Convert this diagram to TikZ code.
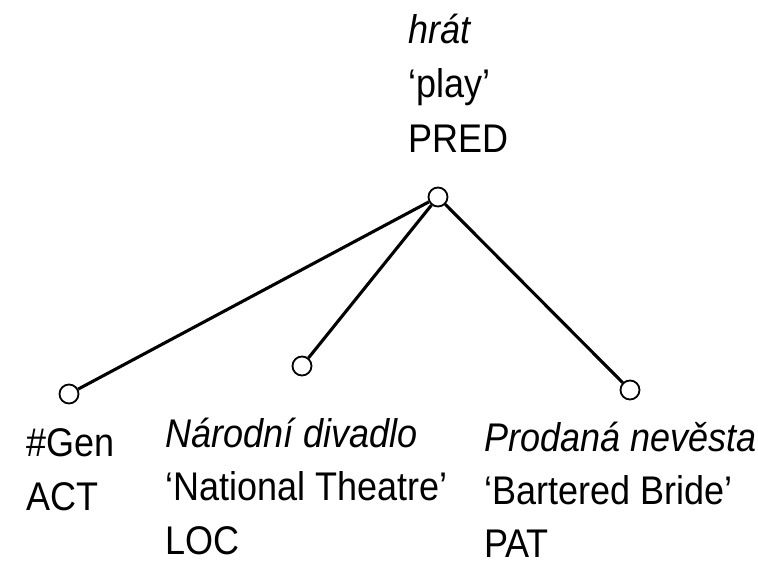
\documentclass[tikz,border=0pt]{standalone}
\usepackage{fontspec}
\setmainfont[FakeStretch=0.9]{Liberation Sans}
\begin{document}
\begin{tikzpicture}[x=1pt,y=-1pt,
  vertex/.style={circle,draw,line width=1.8pt,minimum size=19pt,inner sep=0pt},
  edge/.style={line width=3.1pt},
  lbl/.style={anchor=base west,inner sep=0pt,font=\fontsize{40pt}{54pt}\selectfont}]
\useasboundingbox (0,0) rectangle (758,560);
% tree nodes
\node[vertex] (pred) at (438,197) {};
\node[vertex] (act)  at (69,394) {};
\node[vertex] (loc)  at (302,366) {};
\node[vertex] (pat)  at (630,390) {};
% edges
\draw[edge] (pred) -- (act);
\draw[edge] (pred) -- (loc);
\draw[edge] (pred) -- (pat);
% labels
\node[lbl] (tpred) at (408,43) {\vtop{\baselineskip=54.5pt\hbox{\itshape hrát}\hbox{‘play’}\hbox{PRED}}};
\node[lbl] (tact) at (26,456) {\vtop{\baselineskip=54pt\hbox{\#Gen}\hbox{ACT}}};
\node[lbl] (tloc) at (165,447) {\vtop{\baselineskip=53.5pt\hbox{\itshape Národní divadlo}\hbox{‘National Theatre’}\hbox{LOC}}};
\node[lbl] (tpat) at (484,451) {\vtop{\baselineskip=53pt\hbox{\itshape Prodaná nevěsta}\hbox{‘Bartered Bride’}\hbox{PAT}}};
\end{tikzpicture}
\end{document}
